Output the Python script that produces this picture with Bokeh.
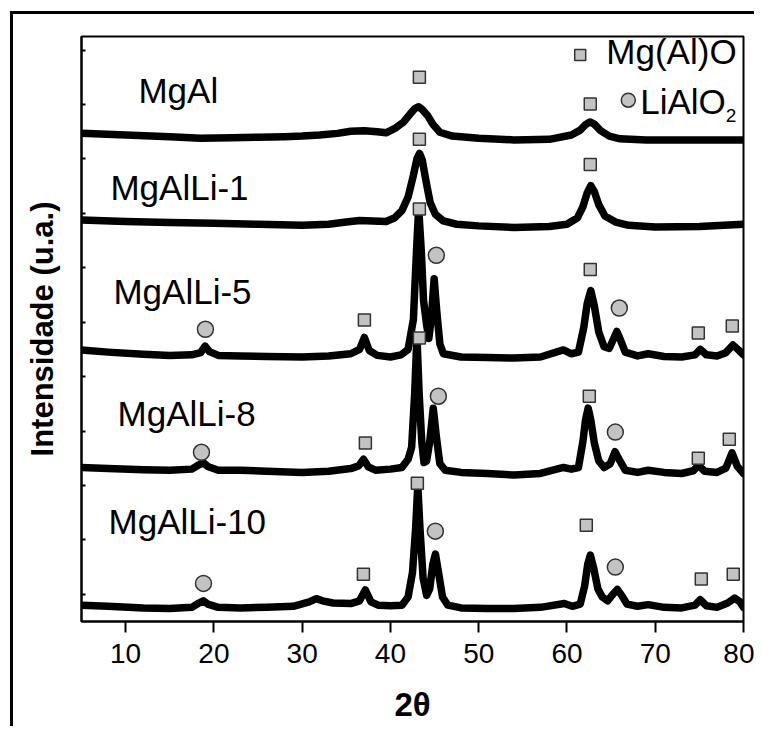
from bokeh.plotting import figure
from bokeh.layouts import column
from bokeh.models import FixedTicker, Range1d, Title
from bokeh.core.properties import value
from bokeh.embed import file_html
from bokeh.resources import INLINE

# ---------------- data ----------------
tt_mgal = [5, 10, 15, 18.5, 22, 25, 28, 30, 32, 34, 35.5, 37, 38.5, 39.5, 40.5, 41.5, 42.2, 42.8, 43.2, 43.6,
           44.2, 44.8, 45.6, 47, 50, 54, 58, 60.5, 61.5, 62.1, 62.6, 63.1, 63.8, 64.8, 66, 69, 75, 80]
i_mgal = [8.47, 8.44, 8.41, 8.38, 8.39, 8.40, 8.41, 8.42, 8.44, 8.47, 8.51, 8.52, 8.50, 8.48, 8.56, 8.68, 8.82,
          8.93, 8.96, 8.91, 8.80, 8.64, 8.49, 8.42, 8.38, 8.35, 8.36, 8.44, 8.53, 8.63, 8.68, 8.64, 8.52, 8.42,
          8.37, 8.35, 8.35, 8.35]

tt_li1 = [5, 10, 15, 20, 25, 30, 33, 35, 36.5, 38, 39.5, 40.5, 41.3, 42.0, 42.6, 43.0, 43.3, 43.6, 44.0, 44.5,
          45.1, 46, 47.5, 50, 54, 58, 60, 61.2, 61.8, 62.3, 62.7, 63.1, 63.6, 64.3, 65.5, 67, 70, 75, 80]
i_li1 = [6.88, 6.85, 6.83, 6.82, 6.80, 6.78, 6.80, 6.84, 6.87, 6.86, 6.85, 6.92, 7.05, 7.30, 7.70, 8.00, 8.10,
         7.98, 7.62, 7.20, 6.98, 6.86, 6.80, 6.77, 6.74, 6.76, 6.80, 6.92, 7.12, 7.38, 7.51, 7.40, 7.16, 6.95,
         6.84, 6.78, 6.75, 6.76, 6.80]

tt_li5 = [5, 8, 12, 15, 17.5, 18.5, 19.0, 19.5, 20.5, 23, 26, 30, 33, 35.5, 36.5, 37.05, 37.6, 38.5, 40, 41.2,
          42.0, 42.6, 42.95, 43.2, 43.5, 43.75, 44.1, 44.35, 44.65, 44.95, 45.25, 45.6, 46.0, 48, 51, 54, 57,
          59.6, 60.5, 61.3, 61.9, 62.3, 62.7, 63.1, 63.6, 64.2, 64.8, 65.3, 65.65, 66.0, 66.6, 68, 69.2, 71, 73,
          74.5, 75.1, 75.8, 77, 78, 78.8, 79.5, 80]
i_li5 = [4.49, 4.45, 4.41, 4.39, 4.40, 4.44, 4.56, 4.46, 4.39, 4.38, 4.37, 4.36, 4.38, 4.42, 4.50, 4.72, 4.48,
         4.39, 4.36, 4.40, 4.50, 5.05, 6.30, 7.10, 6.30, 5.40, 4.95, 4.70, 5.10, 5.80, 5.20, 4.60, 4.42, 4.36,
         4.35, 4.34, 4.36, 4.49, 4.42, 4.45, 4.90, 5.35, 5.58, 5.30, 4.82, 4.55, 4.52, 4.70, 4.83, 4.70, 4.45,
         4.38, 4.42, 4.37, 4.36, 4.40, 4.50, 4.40, 4.38, 4.44, 4.58, 4.48, 4.40]

tt_li8 = [5, 8, 12, 15, 17.5, 18.3, 18.8, 19.3, 20.5, 23, 26, 30, 33, 35.5, 36.4, 36.95, 37.5, 38.3, 40, 41.3,
          42.0, 42.4, 42.75, 43.0, 43.25, 43.55, 43.8, 44.1, 44.45, 44.85, 45.2, 45.6, 46.2, 48, 51, 54, 57,
          59.6, 60.5, 61.3, 61.8, 62.1, 62.4, 62.7, 63.1, 63.6, 64.2, 64.9, 65.45, 66.0, 66.6, 68, 69.2, 71, 73,
          74.3, 74.9, 75.6, 77, 78.0, 78.7, 79.3, 80]
i_li8 = [2.33, 2.31, 2.29, 2.28, 2.30, 2.38, 2.42, 2.35, 2.28, 2.28, 2.26, 2.24, 2.26, 2.31, 2.36, 2.48, 2.34,
         2.28, 2.30, 2.33, 2.48, 2.70, 3.70, 4.75, 3.70, 2.80, 2.42, 2.45, 2.80, 3.42, 2.90, 2.40, 2.28, 2.24,
         2.22, 2.19, 2.22, 2.33, 2.30, 2.33, 2.80, 3.20, 3.42, 3.20, 2.78, 2.45, 2.33, 2.40, 2.62, 2.45, 2.28,
         2.24, 2.28, 2.24, 2.22, 2.27, 2.37, 2.26, 2.24, 2.32, 2.60, 2.35, 2.22]

tt_li10 = [5, 8, 12, 15, 17.5, 18.3, 18.8, 19.3, 20.5, 23, 26, 29, 30.8, 31.6, 32.3, 33.5, 35.5, 36.5, 37.15,
           37.8, 38.6, 40, 41.3, 42.0, 42.5, 42.85, 43.1, 43.35, 43.7, 44.1, 44.45, 44.8, 45.1, 45.45, 45.9,
           46.5, 48, 51, 54, 57, 59.7, 60.6, 61.5, 62.0, 62.35, 62.65, 63.0, 63.5, 64.0, 64.6, 65.2, 65.7, 66.2,
           66.8, 68, 69.2, 71, 73, 74.5, 75.1, 75.8, 77, 78.2, 79.0, 79.6, 80]
i_li10 = [-0.20, -0.22, -0.25, -0.26, -0.24, -0.16, -0.12, -0.18, -0.24, -0.25, -0.24, -0.22, -0.14, -0.08,
          -0.12, -0.16, -0.17, -0.12, 0.08, -0.14, -0.20, -0.21, -0.20, -0.05, 0.40, 1.20, 2.00, 1.20, 0.30,
          -0.02, 0.10, 0.55, 0.74, 0.40, -0.05, -0.20, -0.25, -0.26, -0.26, -0.24, -0.17, -0.22, -0.18, 0.15,
          0.55, 0.72, 0.50, 0.10, -0.05, -0.12, 0.00, 0.09, -0.02, -0.18, -0.22, -0.19, -0.24, -0.25, -0.20,
          -0.10, -0.21, -0.24, -0.16, -0.07, -0.14, -0.24]

# phase markers: Mg(Al)O squares, LiAlO2 circles
sq_x = [43.28, 62.64, 43.28, 62.64, 37.05, 43.28, 62.64, 74.88, 78.73, 37.16, 43.28, 62.53, 74.88, 78.39,
        36.94, 43.05, 62.19, 75.22, 78.84]
sq_y = [9.50, 9.01, 8.36, 7.90, 5.04, 7.08, 5.97, 4.80, 4.93, 2.78, 4.71, 3.64, 2.50, 2.85,
        0.37, 2.04, 1.27, 0.28, 0.37]
ci_x = [19.04, 45.20, 65.93, 18.59, 45.43, 65.48, 18.82, 45.09, 65.48]
ci_y = [4.87, 6.23, 5.26, 2.61, 3.64, 2.98, 0.20, 1.16, 0.50]

sample_names = ["MgAl", "MgAlLi-1", "MgAlLi-5", "MgAlLi-8", "MgAlLi-10"]
name_x = [11.45, 8.28, 8.62, 9.08, 8.06]
name_y = [9.25, 7.47, 5.56, 3.33, 1.33]

x_ticks = [10, 20, 30, 40, 50, 60, 70, 80]
y_ticks = [0, 1, 2, 3, 4, 5, 6, 7, 8, 9, 10]

FONT = "Liberation Sans"
GREY = "#c3c3c3"
EDGE = "#333333"

fig = figure(width=754, height=726, output_backend="svg", toolbar_location=None,
             x_range=Range1d(5, 80), y_range=Range1d(-0.5, 10.25),
             min_border_left=81, min_border_right=11, min_border_top=36, min_border_bottom=105,
             x_axis_label="2θ")
fig.xgrid.visible = False
fig.ygrid.visible = False
fig.outline_line_color = "black"
fig.outline_line_width = 2
fig.background_fill_color = "white"
fig.border_fill_color = None   # lets the page frame (drawn behind) show through

for ax in (fig.xaxis[0], fig.yaxis[0]):
    ax.axis_line_width = 2
    ax.axis_line_color = "black"
    ax.major_tick_line_width = 2
    ax.major_tick_line_color = "black"
    ax.minor_tick_line_color = None

fig.xaxis.axis_label_text_font = FONT
fig.xaxis.axis_label_text_font_style = "bold"
fig.xaxis.axis_label_text_color = "black"
fig.xaxis.axis_label_text_font_size = "33px"
fig.xaxis.ticker = FixedTicker(ticks=x_ticks)
fig.xaxis.major_tick_out = 11
fig.xaxis.major_tick_in = 0
fig.xaxis.major_label_text_font = FONT
fig.xaxis.major_label_text_font_size = "28px"
fig.xaxis.major_label_text_color = "black"
fig.xaxis.major_label_standoff = 11
fig.xaxis.axis_label_standoff = 20

fig.yaxis.ticker = FixedTicker(ticks=y_ticks)
fig.yaxis.major_tick_out = 0
fig.yaxis.major_tick_in = 4
fig.yaxis.major_label_overrides = {t: "" for t in y_ticks}
fig.yaxis.major_label_standoff = 0

fig.add_layout(Title(text="Intensidade (u.a.)", align="center", standoff=44,
                     text_font=FONT, text_font_style="bold", text_font_size="31px",
                     text_color="black"), "left")

for xs, ys in [(tt_mgal, i_mgal), (tt_li1, i_li1), (tt_li5, i_li5), (tt_li8, i_li8), (tt_li10, i_li10)]:
    fig.line(xs, ys, line_color="black", line_width=7.5, line_join="round", line_cap="round")

fig.scatter(sq_x, sq_y, marker="square", size=12, fill_color=GREY, line_color=EDGE, line_width=1.5)
fig.scatter(ci_x, ci_y, marker="circle", size=16, fill_color=GREY, line_color=EDGE, line_width=1.5)

fig.text(x=name_x, y=name_y, text=sample_names, text_font=value(FONT), text_font_size="35px",
         text_color="black", text_baseline="alphabetic", text_align="left")

# legend drawn as glyphs
fig.scatter([61.5], [9.91], marker="square", size=11, fill_color=GREY, line_color=EDGE, line_width=1.5)
fig.scatter([66.95], [9.08], marker="circle", size=14, fill_color=GREY, line_color=EDGE, line_width=1.5)
fig.text(x=[64.46], y=[9.97], text=["Mg(Al)O"], text_font=value(FONT), text_font_size="35px",
         text_color="black", text_baseline="alphabetic")
fig.text(x=[68.3], y=[9.05], text=["LiAlO"], text_font=value(FONT), text_font_size="35px",
         text_color="black", text_baseline="alphabetic")
fig.text(x=[78.0], y=[8.80], text=["2"], text_font=value(FONT), text_font_size="19px",
         text_color="black", text_baseline="alphabetic")

# page frame: left and top sides (right and bottom sides lie outside the picture)
p = column(fig)
p.styles = {"background-color": "white",
            "background-image": "linear-gradient(#000, #000), linear-gradient(#000, #000)",
            "background-size": "3px 100%, 100% 3px",
            "background-position": "10px 11px, 10px 11px",
            "background-repeat": "no-repeat"}

open("out.html", "w").write(file_html(p, INLINE))
